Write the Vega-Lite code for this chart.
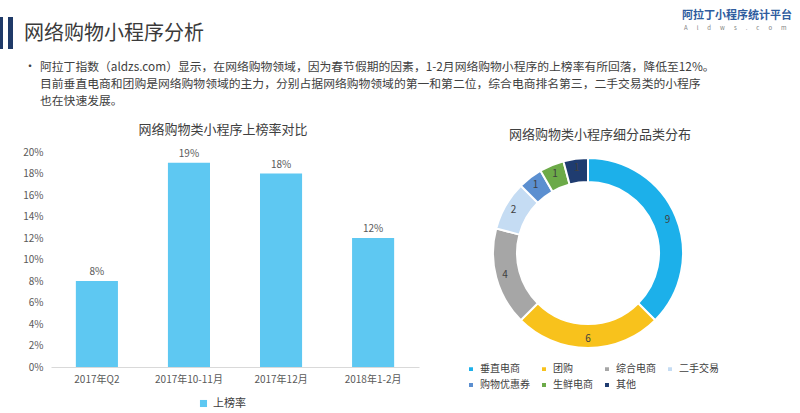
{
  "$schema": "https://vega.github.io/schema/vega-lite/v6.json",
  "autosize": {"type": "pad"},
  "padding": 0,
  "background": "#ffffff",
  "bounds": "flush",
  "spacing": 52,
  "config": {
    "font": "Noto Sans CJK SC",
    "view": {"stroke": null},
    "title": {"font": "Noto Sans CJK SC", "fontWeight": "normal", "color": "#404040", "fontSize": 13}
  },
  "vconcat": [
    {
      "width": 749,
      "height": 100,
      "data": {"values": [{"part": "header"}]},
      "layer": [
        {
          "mark": {"type": "rect", "opacity": 0},
          "encoding": {"x": {"value": -51}, "x2": {"value": 749}, "y": {"value": 0}, "y2": {"value": 413}}
        },
        {
          "mark": {"type": "rect", "color": "#1f3a68"},
          "encoding": {"x": {"value": -43}, "x2": {"value": -38}, "y": {"value": 17}, "y2": {"value": 49}}
        },
        {
          "mark": {"type": "rect", "color": "#1f3a68"},
          "encoding": {"x": {"value": -51}, "x2": {"value": -48}, "y": {"value": 17}, "y2": {"value": 49}}
        },
        {
          "mark": {"type": "text", "align": "left", "baseline": "middle", "fontSize": 20, "color": "#3a3a3a", "text": "网络购物小程序分析"},
          "encoding": {"x": {"value": -27}, "y": {"value": 34}}
        },
        {
          "mark": {"type": "text", "align": "left", "baseline": "middle", "fontSize": 12, "color": "#404040", "text": "•"},
          "encoding": {"x": {"value": -27}, "y": {"value": 67}}
        },
        {
          "mark": {"type": "text", "align": "left", "baseline": "middle", "fontSize": 11.8, "color": "#404040", "text": "阿拉丁指数（aldzs.com）显示，在网络购物领域，因为春节假期的因素，1-2月网络购物小程序的上榜率有所回落，降低至12%。"},
          "encoding": {"x": {"value": -11}, "y": {"value": 67}}
        },
        {
          "mark": {"type": "text", "align": "left", "baseline": "middle", "fontSize": 11.8, "color": "#404040", "text": "目前垂直电商和团购是网络购物领域的主力，分别占据网络购物领域的第一和第二位，综合电商排名第三，二手交易类的小程序"},
          "encoding": {"x": {"value": -11}, "y": {"value": 84}}
        },
        {
          "mark": {"type": "text", "align": "left", "baseline": "middle", "fontSize": 11.8, "color": "#404040", "text": "也在快速发展。"},
          "encoding": {"x": {"value": -11}, "y": {"value": 101}}
        },
        {
          "mark": {"type": "text", "align": "left", "baseline": "middle", "fontSize": 11, "fontWeight": "bold", "color": "#2e5c9e", "text": "阿拉丁小程序统计平台"},
          "encoding": {"x": {"value": 631}, "y": {"value": 16}}
        },
        {
          "mark": {"type": "text", "align": "left", "baseline": "middle", "fontSize": 6, "color": "#7f7f7f", "text": "A\u2003\u2002l\u2003\u2002d\u2003\u2002w\u2003\u2002s\u2003\u2002.\u2003\u2002c\u2003\u2002o\u2003\u2002m"},
          "encoding": {"x": {"value": 633}, "y": {"value": 28}}
        }
      ]
    },
    {
      "hconcat": [
        {
          "width": 368,
          "height": 215,
          "title": {"text": "网络购物类小程序上榜率对比", "offset": 10, "dx": -12},
          "data": {"values": [
            {"period": "2017年Q2", "rate": 0.08},
            {"period": "2017年10-11月", "rate": 0.19},
            {"period": "2017年12月", "rate": 0.18},
            {"period": "2018年1-2月", "rate": 0.12}
          ]},
          "encoding": {
            "x": {
              "field": "period", "type": "nominal", "sort": null,
              "scale": {"paddingInner": 0.543, "paddingOuter": 0.27},
              "axis": {"title": null, "labelAngle": 0, "ticks": false, "domainColor": "#d9d9d9", "labelColor": "#595959", "labelFontSize": 10, "labelPadding": 7}
            },
            "y": {
              "field": "rate", "type": "quantitative",
              "scale": {"domain": [0, 0.2]},
              "axis": {"title": null, "values": [0, 0.02, 0.04, 0.06, 0.08, 0.1, 0.12, 0.14, 0.16, 0.18, 0.2], "format": ".0%", "domain": false, "ticks": false, "grid": false, "labelColor": "#595959", "labelFontSize": 10, "labelPadding": 8}
            }
          },
          "layer": [
            {
              "mark": {"type": "bar"},
              "encoding": {
                "color": {
                  "datum": "上榜率", "type": "nominal",
                  "scale": {"domain": ["上榜率"], "range": ["#5ec8f2"]},
                  "legend": {"title": null, "orient": "none", "legendX": 147, "legendY": 246, "symbolType": "square", "symbolSize": 50, "labelFontSize": 11, "labelColor": "#404040"}
                }
              }
            },
            {
              "mark": {"type": "text", "dy": -9, "fontSize": 10, "color": "#595959"},
              "encoding": {"text": {"field": "rate", "type": "quantitative", "format": ".0%"}}
            }
          ]
        },
        {
          "width": 260,
          "height": 202,
          "title": {"text": "网络购物类小程序细分品类分布", "offset": 10, "dx": 12},
          "data": {"values": [
            {"cat": "垂直电商", "n": 9, "ord": 1},
            {"cat": "团购", "n": 6, "ord": 2},
            {"cat": "综合电商", "n": 4, "ord": 3},
            {"cat": "二手交易", "n": 2, "ord": 4},
            {"cat": "购物优惠券", "n": 1, "ord": 5},
            {"cat": "生鲜电商", "n": 1, "ord": 6},
            {"cat": "其他", "n": 1, "ord": 7}
          ]},
          "encoding": {
            "theta": {"field": "n", "type": "quantitative", "stack": true},
            "order": {"field": "ord", "type": "quantitative"}
          },
          "layer": [
            {
              "mark": {"type": "arc", "outerRadius": 95, "innerRadius": 71, "stroke": "#ffffff", "strokeWidth": 2},
              "encoding": {
                "color": {
                  "field": "cat", "type": "nominal",
                  "scale": {
                    "domain": ["垂直电商", "团购", "综合电商", "二手交易", "购物优惠券", "生鲜电商", "其他"],
                    "range": ["#1cb0ea", "#f8c21c", "#a6a6a6", "#c5dcf3", "#5b8fd0", "#6caa48", "#1f3c70"]
                  },
                  "legend": {"title": null, "orient": "none", "direction": "horizontal", "legendX": 8, "legendY": 212, "columns": 4, "columnPadding": 8, "rowPadding": 4, "symbolType": "square", "symbolSize": 30, "labelFontSize": 10, "labelColor": "#404040"}
                }
              }
            },
            {
              "mark": {"type": "text", "radius": 86, "fontSize": 10, "color": "#404040"},
              "encoding": {"text": {"field": "n", "type": "quantitative"}}
            }
          ]
        }
      ],
      "resolve": {"scale": {"color": "independent", "theta": "independent"}, "legend": {"color": "independent"}},
      "spacing": 39,
      "bounds": "flush"
    }
  ]
}
